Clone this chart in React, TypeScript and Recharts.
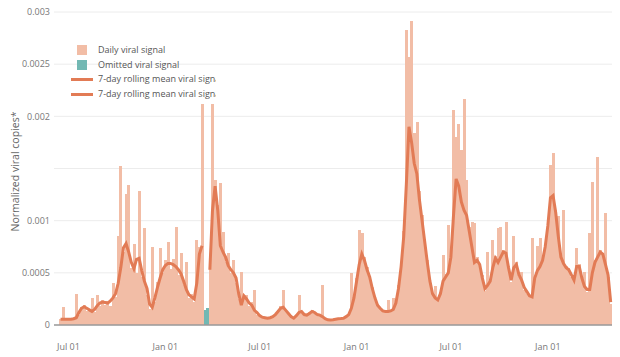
import { ComposedChart, Bar, Line, XAxis, YAxis, CartesianGrid } from 'recharts';

// one sample every 5 days, starting 2020-06-06
const START = Date.UTC(2020, 5, 6);
const STEP_DAYS = 5;

// daily viral signal (x 1e-4)
const dailySignal: (number | null)[] = [
  null, null, 0.6, 1.75, 0.5, 0.6, 0.55, 0.6, 3.0, 1.0,
  1.7, 1.9, 1.3, 1.5, 2.6, 1.2, 2.9, 1.8, 2.4, 1.9,
  2.3, 1.8, 4.0, 2.7, 8.5, 15.2, 7.0, 12.6, 13.4, 5.5,
  7.8, 5.0, 12.8, 4.6, 9.3, 2.9, 1.5, 7.5, 2.2, 4.1,
  7.35, 5.0, 6.2, 8.0, 5.4, 6.3, 9.4, 4.8, 6.9, 3.8,
  6.0, 2.6, 3.0, 2.2, 8.1, 7.5, 21.2, null, null, 5.5,
  21.2, 13.9, 11.5, 13.6, 8.9, 6.0, 6.9, 5.0, 6.2, 4.0,
  2.5, 5.1, 2.5, 2.9, 1.8, 2.2, 3.35, 1.0, 0.9, 0.7,
  0.8, 0.6, 0.75, 0.9, 1.1, 1.2, 1.8, 3.35, 1.3, 1.0,
  0.9, 0.6, 1.0, 2.9, 1.2, 0.9, 1.0, 1.2, 1.4, 1.1,
  0.9, 1.0, 3.85, 0.6, 0.45, 0.5, 0.55, 0.5, 0.65, 0.6,
  0.7, 0.9, 1.1, 5.0, 2.8, 4.5, 9.1, 8.8, 6.5, 5.6,
  4.2, 3.6, 2.4, 2.0, 1.5, 1.4, 1.2, 2.4, 1.3, 2.6,
  2.2, 3.8, 5.9, 9.0, 28.3, 25.7, 29.1, 18.4, 19.5, 12.8,
  10.5, 8.2, 6.2, 4.0, 3.1, 3.7, 2.3, 3.2, 6.7, 4.9,
  9.6, 7.0, 20.6, 18.0, 19.3, 16.8, 21.7, 13.9, 9.4, 9.9,
  9.8, 6.5, 5.6, 4.8, 3.3, 7.0, 4.0, 8.1, 6.6, 9.3,
  9.4, 7.2, 9.9, 5.7, 4.1, 8.5, 6.0, 4.6, 5.1, 3.4,
  3.0, 2.7, 8.3, 4.7, 7.6, 8.3, 6.4, 7.8, 9.8, 15.3,
  16.5, 11.0, 10.4, 6.8, 11.0, 5.7, 5.5, 4.6, 4.5, 7.35,
  5.8, 4.3, 5.1, 3.2, 8.8, 13.7, 6.2, 16.1, 7.2, 6.6,
  10.7, 4.6, 2.0,
];

// 7-day rolling mean (x 1e-4), gap while the signal was omitted
const rollingMean: (number | null)[] = [
  null, null, 0.55, 0.55, 0.55, 0.55, 0.55, 0.6, 0.7, 1.2,
  1.6, 1.75, 1.6, 1.45, 1.3, 1.5, 1.85, 2.1, 2.2, 2.15,
  2.1, 2.3, 2.6, 3.0, 4.0, 5.5, 7.4, 7.8, 7.0, 6.0,
  5.4, 6.3, 6.4, 5.2, 4.2, 3.5, 2.0, 1.7, 2.6, 3.6,
  4.5, 5.3, 5.7, 5.9, 5.9, 5.8, 5.6, 5.3, 4.9, 4.2,
  3.4, 2.9, 2.7, 2.5, 4.0, 6.8, 7.6, null, null, 5.3,
  11.0, 13.3, 11.0, 7.6, 7.0, 6.5, 5.7, 5.3, 5.0, 4.5,
  3.0, 1.9, 2.8, 2.5, 2.1, 1.9, 1.4, 1.2, 0.9, 0.75,
  0.7, 0.65, 0.7, 0.8, 1.0, 1.3, 1.6, 1.7, 1.4, 1.1,
  0.8, 0.65, 0.9, 1.2, 1.3, 1.0, 0.95, 1.1, 1.3, 1.2,
  1.0, 0.95, 0.8, 0.6, 0.5, 0.48, 0.5, 0.55, 0.6, 0.62,
  0.65, 0.8, 1.0, 1.6, 2.6, 4.2, 5.8, 6.8, 6.2, 5.3,
  4.6, 3.5, 2.6, 1.9, 1.6, 1.35, 1.3, 1.3, 1.35, 1.5,
  2.1, 3.5, 5.6, 8.5, 13.5, 19.0, 17.5, 15.5, 14.5, 12.0,
  10.0, 8.0, 6.0, 4.2, 3.0, 2.6, 2.4, 3.0, 4.2, 4.6,
  5.0, 6.5, 10.5, 14.0, 13.3, 11.8, 11.0, 10.5, 9.0, 7.5,
  6.0, 6.2, 5.8, 4.5, 3.5, 3.8, 4.2, 5.5, 6.4, 6.0,
  6.5, 7.0, 6.9, 5.5, 4.3, 5.5, 5.8, 4.8, 4.3, 3.6,
  3.2, 2.8, 2.7, 4.5, 5.2, 5.6, 6.2, 7.5, 9.5, 12.2,
  12.4, 10.8, 8.5, 6.5, 5.9, 5.5, 5.3, 4.8, 4.3, 5.6,
  5.6, 4.5, 3.7, 3.4, 3.4, 5.0, 6.0, 6.5, 7.0, 6.8,
  5.8, 4.8, 2.2,
];

// omitted samples (x 1e-4), starting at sample index omittedFrom
const omittedFrom = 57;
const omittedSignal = [1.4, 1.6];

const tickDates = ['2020-07-01', '2021-01-01', '2021-07-01', '2022-01-01', '2022-07-01', '2023-01-01'];
const tickLabels = ['Jul 01', 'Jan 01', 'Jul 01', 'Jan 01', 'Jul 01', 'Jan 01'];
const yTicks = [0, 0.0005, 0.001, 0.0015, 0.002, 0.0025, 0.003];
const yLabels = ['0', '0.0005', '0.001', '', '0.002', '0.0025', '0.003'];

const SCALE = 1e-4;
const DAILY = '#f2bda6';
const OMIT = '#72b8b3';
const MEAN = '#e27b55';
const FONT = '"Open Sans", "Noto Sans", sans-serif';

const rows = dailySignal.map((v, i) => {
  const t = START + i * STEP_DAYS * 86400000;
  const m = rollingMean[i];
  const o = i >= omittedFrom && i < omittedFrom + omittedSignal.length ? omittedSignal[i - omittedFrom] : null;
  return {
    date: new Date(t).toISOString().slice(0, 10),
    time: t,
    daily: v == null ? null : v * SCALE,
    omitted: o == null ? null : o * SCALE,
    meanBefore: i < omittedFrom && m != null ? m * SCALE : null,
    meanAfter: i >= omittedFrom && m != null ? m * SCALE : null,
  };
});

// snap each tick date to the nearest sample
const tickMap: Record<string, string> = {};
const xTicks = tickDates.map((d, k) => {
  const t = Date.parse(d);
  let best = rows[0];
  for (const r of rows) if (Math.abs(r.time - t) < Math.abs(best.time - t)) best = r;
  tickMap[best.date] = tickLabels[k];
  return best.date;
});

const legendItems = [
  { label: 'Daily viral signal', color: DAILY, kind: 'box' },
  { label: 'Omitted viral signal', color: OMIT, kind: 'box' },
  { label: '7-day rolling mean viral signal', color: MEAN, kind: 'line' },
  { label: '7-day rolling mean viral signal', color: MEAN, kind: 'line' },
];

function ChartLegend() {
  return (
    <div
      style={{
        position: 'absolute',
        left: 70,
        top: 43,
        width: 146,
        overflow: 'hidden',
        fontFamily: FONT,
        fontSize: 9,
        color: '#555',
      }}
    >
      {legendItems.map((it, i) => (
        <div key={i} style={{ position: 'relative', height: 14.5, whiteSpace: 'nowrap', lineHeight: '14.5px' }}>
          {it.kind === 'box' ? (
            <span style={{ position: 'absolute', left: 7, top: 2, width: 10, height: 10, background: it.color }} />
          ) : (
            <span style={{ position: 'absolute', left: 1, top: 6, width: 22, height: 3, background: it.color }} />
          )}
          <span style={{ position: 'absolute', left: 28, top: 0 }}>{it.label}</span>
        </div>
      ))}
    </div>
  );
}

export default function App() {
  return (
    <div style={{ position: 'absolute', left: 0, top: 0, width: 620, height: 357, background: '#fff' }}>
      <ComposedChart
        width={620}
        height={357}
        data={rows}
        margin={{ top: 12, right: 8, bottom: 0, left: 0 }}
        barCategoryGap={0}
        barGap={0}
      >
        <CartesianGrid vertical={false} stroke="#ececec" />
        <XAxis
          dataKey="date"
          ticks={xTicks}
          interval={0}
          tickFormatter={(v) => tickMap[v] ?? ''}
          tickLine={false}
          tickSize={0}
          tickMargin={19}
          height={32}
          axisLine={{ stroke: '#9a9a9a', strokeWidth: 1.5 }}
          tick={{ fill: '#777', fontSize: 9, fontFamily: FONT }}
        />
        <YAxis
          width={54}
          domain={[0, 0.003]}
          ticks={yTicks}
          interval={0}
          tickFormatter={(v, i) => yLabels[i] ?? ''}
          axisLine={false}
          tickLine={false}
          tickSize={0}
          tickMargin={4}
          tick={{ fill: '#777', fontSize: 9, fontFamily: FONT }}
          label={{
            value: 'Normalized viral copies*',
            angle: -90,
            position: 'insideLeft',
            dx: 10,
            dy: 3,
            style: { textAnchor: 'middle', fill: '#666', fontSize: 10.5, fontFamily: FONT },
          }}
        />
        <Bar dataKey="omitted" stackId="s" fill={OMIT} isAnimationActive={false} shapeRendering="crispEdges" />
        <Bar dataKey="daily" stackId="s" fill={DAILY} isAnimationActive={false} shapeRendering="crispEdges" />
        <Line
          type="linear"
          dataKey="meanBefore"
          stroke={MEAN}
          strokeWidth={3}
          dot={false}
          activeDot={false}
          connectNulls={false}
          isAnimationActive={false}
        />
        <Line
          type="linear"
          dataKey="meanAfter"
          stroke={MEAN}
          strokeWidth={3}
          dot={false}
          activeDot={false}
          connectNulls={false}
          isAnimationActive={false}
        />
      </ComposedChart>
      <ChartLegend />
    </div>
  );
}
